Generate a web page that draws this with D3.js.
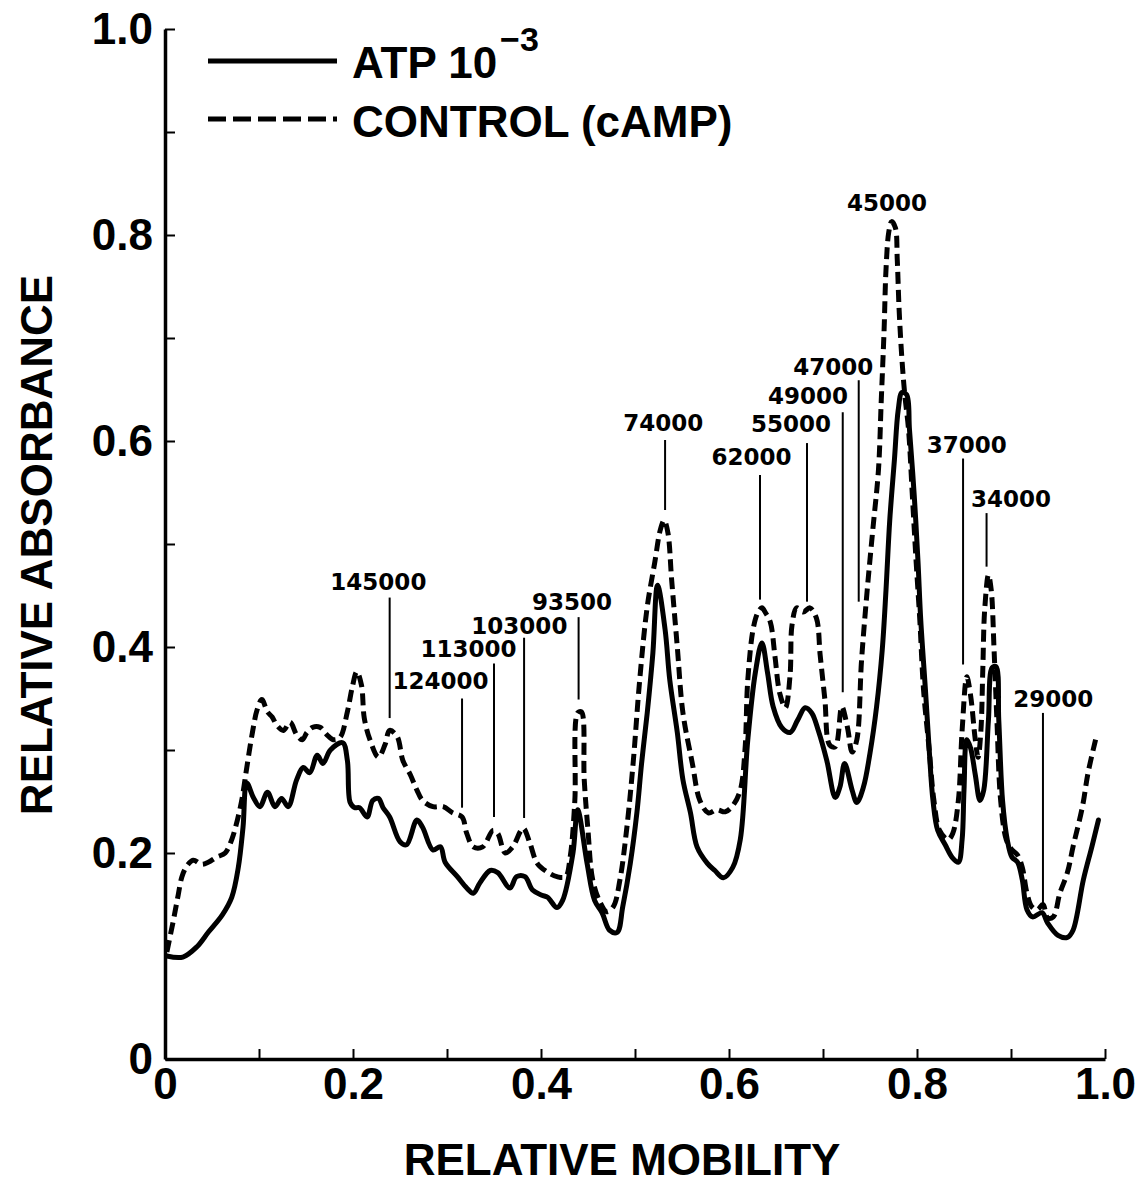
<!DOCTYPE html>
<html>
<head>
<meta charset="utf-8">
<script src="https://cdn.jsdelivr.net/npm/d3@7"></script>
<style>
  body { margin: 0; background: #fff; }
  text { fill: #000; }
</style>
</head>
<body>
<script>
// densitometer trace, ATP 10^-3 (solid)
var atpMobility = [0.002,0.019,0.034,0.046,0.061,0.071,0.078,0.083,0.087,0.094,
  0.101,0.109,0.117,0.124,0.131,0.140,0.147,0.154,0.162,0.168,
  0.176,0.189,0.194,0.197,0.202,0.207,0.215,0.221,0.227,0.232,
  0.239,0.250,0.257,0.268,0.274,0.285,0.293,0.298,0.311,0.321,
  0.328,0.335,0.346,0.354,0.367,0.374,0.383,0.391,0.401,0.407,
  0.417,0.423,0.434,0.439,0.449,0.457,0.465,0.473,0.481,0.487,
  0.495,0.502,0.507,0.513,0.519,0.524,0.532,0.537,0.545,0.551,
  0.559,0.566,0.577,0.585,0.594,0.604,0.612,0.620,0.628,0.635,
  0.641,0.647,0.656,0.665,0.673,0.681,0.688,0.695,0.704,0.713,
  0.718,0.723,0.731,0.736,0.743,0.750,0.757,0.763,0.767,0.771,
  0.776,0.780,0.784,0.789,0.792,0.797,0.801,0.804,0.809,0.813,
  0.817,0.822,0.830,0.838,0.844,0.848,0.850,0.853,0.857,0.862,
  0.867,0.871,0.876,0.880,0.884,0.887,0.891,0.896,0.901,0.907,
  0.912,0.917,0.923,0.933,0.939,0.950,0.960,0.966,0.977,0.986,
  0.993];
var atpAbsorbance = [0.100,0.099,0.109,0.123,0.140,0.157,0.186,0.225,0.268,0.254,
  0.245,0.259,0.245,0.253,0.245,0.271,0.283,0.278,0.295,0.287,
  0.300,0.307,0.290,0.249,0.244,0.244,0.235,0.251,0.253,0.244,
  0.235,0.211,0.208,0.232,0.225,0.203,0.206,0.191,0.177,0.166,
  0.161,0.171,0.183,0.181,0.166,0.177,0.177,0.164,0.159,0.157,
  0.147,0.154,0.200,0.242,0.190,0.154,0.142,0.125,0.123,0.148,
  0.190,0.239,0.287,0.336,0.394,0.460,0.417,0.368,0.317,0.271,
  0.239,0.206,0.190,0.183,0.176,0.186,0.213,0.310,0.375,0.404,
  0.375,0.342,0.322,0.317,0.329,0.341,0.336,0.319,0.290,0.254,
  0.264,0.287,0.261,0.249,0.264,0.297,0.342,0.397,0.455,0.523,
  0.582,0.630,0.647,0.645,0.611,0.548,0.484,0.426,0.358,0.300,
  0.251,0.222,0.208,0.195,0.191,0.213,0.261,0.310,0.302,0.276,
  0.251,0.261,0.329,0.380,0.381,0.329,0.251,0.213,0.196,0.191,
  0.174,0.145,0.138,0.142,0.132,0.120,0.118,0.125,0.174,0.206,
  0.232];

// control (cAMP) trace (dashed)
var controlMobility = [0.002,0.009,0.014,0.018,0.023,0.030,0.039,0.046,0.055,0.064,
  0.071,0.077,0.082,0.087,0.093,0.098,0.103,0.109,0.114,0.119,
  0.126,0.133,0.140,0.146,0.151,0.157,0.165,0.172,0.179,0.186,
  0.194,0.199,0.204,0.209,0.212,0.218,0.227,0.234,0.239,0.247,
  0.253,0.261,0.268,0.274,0.285,0.296,0.306,0.316,0.321,0.328,
  0.338,0.349,0.354,0.362,0.370,0.381,0.388,0.396,0.406,0.417,
  0.426,0.431,0.436,0.439,0.443,0.446,0.450,0.455,0.463,0.470,
  0.477,0.484,0.491,0.498,0.505,0.513,0.521,0.527,0.531,0.535,
  0.539,0.545,0.551,0.561,0.569,0.578,0.587,0.596,0.604,0.612,
  0.617,0.620,0.626,0.631,0.635,0.639,0.644,0.649,0.654,0.660,
  0.665,0.667,0.672,0.679,0.686,0.693,0.697,0.702,0.707,0.713,
  0.720,0.726,0.731,0.736,0.741,0.747,0.753,0.759,0.762,0.765,
  0.767,0.770,0.773,0.777,0.779,0.781,0.784,0.787,0.791,0.795,
  0.799,0.803,0.807,0.813,0.818,0.824,0.833,0.838,0.844,0.848,
  0.853,0.857,0.862,0.865,0.868,0.870,0.872,0.876,0.879,0.882,
  0.885,0.889,0.895,0.901,0.907,0.912,0.917,0.922,0.928,0.934,
  0.939,0.945,0.952,0.960,0.966,0.976,0.982,0.990];
var controlAbsorbance = [0.104,0.135,0.159,0.177,0.187,0.193,0.189,0.191,0.196,0.200,
  0.213,0.232,0.253,0.283,0.317,0.339,0.349,0.337,0.332,0.324,
  0.319,0.327,0.315,0.310,0.317,0.322,0.322,0.315,0.310,0.312,
  0.337,0.360,0.376,0.363,0.331,0.310,0.293,0.305,0.319,0.313,
  0.290,0.276,0.261,0.251,0.245,0.245,0.239,0.235,0.219,0.206,
  0.206,0.222,0.219,0.200,0.206,0.224,0.210,0.190,0.182,0.177,
  0.177,0.196,0.251,0.336,0.337,0.271,0.222,0.174,0.152,0.143,
  0.148,0.174,0.222,0.287,0.368,0.439,0.482,0.514,0.523,0.511,
  0.465,0.400,0.336,0.287,0.251,0.239,0.242,0.240,0.246,0.261,
  0.300,0.368,0.419,0.434,0.438,0.433,0.424,0.390,0.355,0.341,
  0.373,0.421,0.438,0.434,0.438,0.428,0.392,0.349,0.305,0.303,
  0.342,0.322,0.298,0.310,0.387,0.455,0.514,0.572,0.640,0.708,
  0.766,0.803,0.813,0.807,0.776,0.727,0.679,0.645,0.611,0.548,
  0.484,0.426,0.358,0.300,0.251,0.222,0.213,0.219,0.251,0.319,
  0.371,0.353,0.310,0.293,0.319,0.378,0.436,0.470,0.455,0.397,
  0.329,0.251,0.213,0.203,0.198,0.186,0.161,0.148,0.145,0.150,
  0.137,0.138,0.161,0.181,0.206,0.245,0.278,0.310];

// molecular weight markers: label, marker line (mobility, top, bottom), label position
var markerLabels   = ["145000","124000","113000","103000","93500","74000","62000","55000","49000","47000","45000","37000","34000","29000"];
var markerMobility = [0.239,0.316,0.350,0.382,0.440,0.532,0.633,0.683,0.721,0.738,null,0.849,0.874,0.934];
var markerTop      = [0.448,0.350,0.384,0.409,0.429,0.601,0.567,0.598,0.628,0.659,null,0.583,0.530,0.336];
var markerBottom   = [0.331,0.244,0.235,0.234,0.349,0.533,0.446,0.444,0.356,0.444,null,0.383,0.478,0.150];
var labelMobility  = [0.227,0.293,0.323,0.377,0.433,0.530,0.624,0.666,0.684,0.711,0.768,0.853,0.900,0.945];
var labelAbsorbance= [0.463,0.367,0.398,0.421,0.444,0.618,0.585,0.617,0.644,0.672,0.831,0.596,0.544,0.350];

var tickValues = d3.range(0, 11).map(function(i) { return i / 10; });

var width = 1135, height = 1186,
    margin = {top: 29, right: 30, bottom: 127, left: 165};

var svg = d3.select("body")
            .append("svg")
            .attr("width", width)
            .attr("height", height);

var x = d3.scaleLinear()
          .domain([0, 1])
          .range([margin.left, width - margin.right]);

var y = d3.scaleLinear()
          .domain([0, 1])
          .range([height - margin.bottom, margin.top]);

var tickFormat = function(d) {
  var k = Math.round(d * 10);
  if (k % 2 == 1) return "";
  return k == 0 ? "0" : d.toFixed(1);
};

var labelFont = "'Liberation Sans', Arial, sans-serif";

// x axis, ticks pointing inward
var xAxis = svg.append("g")
               .attr("transform", "translate(0," + y(0) + ")")
               .call(d3.axisBottom(x)
                       .tickValues(tickValues)
                       .tickSizeInner(-10)
                       .tickSizeOuter(0)
                       .tickPadding(9)
                       .tickFormat(tickFormat));

var yAxis = svg.append("g")
               .attr("transform", "translate(" + x(0) + ",0)")
               .call(d3.axisLeft(y)
                       .tickValues(tickValues)
                       .tickSizeInner(-10)
                       .tickSizeOuter(0)
                       .tickPadding(12)
                       .tickFormat(tickFormat));

[xAxis, yAxis].forEach(function(ax) {
  ax.select(".domain").attr("stroke-width", 3.5);
  ax.selectAll(".tick line").attr("stroke-width", 2);
  ax.selectAll(".tick text")
    .style("font-family", labelFont)
    .style("font-weight", "bold")
    .style("font-size", "44px");
});

// traces
var line = d3.line()
             .x(function(d) { return x(d[0]); })
             .y(function(d) { return y(d[1]); })
             .curve(d3.curveCatmullRom.alpha(0.5));

var atpData = d3.zip(atpMobility, atpAbsorbance);
var controlData = d3.zip(controlMobility, controlAbsorbance);

svg.append("path")
   .datum(controlData)
   .attr("d", line)
   .attr("fill", "none")
   .attr("stroke", "#000")
   .attr("stroke-width", 5)
   .attr("stroke-dasharray", "12,6")
   .attr("stroke-linejoin", "round");

svg.append("path")
   .datum(atpData)
   .attr("d", line)
   .attr("fill", "none")
   .attr("stroke", "#000")
   .attr("stroke-width", 5)
   .attr("stroke-linejoin", "round")
   .attr("stroke-linecap", "round");

// marker lines and labels
var markers = markerLabels.map(function(l, i) {
  return {label: l, mx: markerMobility[i], top: markerTop[i], bottom: markerBottom[i],
          lx: labelMobility[i], ly: labelAbsorbance[i]};
});

svg.selectAll(".marker-line")
   .data(markers.filter(function(d) { return d.mx !== null; }))
   .enter()
   .append("line")
   .attr("class", "marker-line")
   .attr("x1", function(d) { return x(d.mx); })
   .attr("x2", function(d) { return x(d.mx); })
   .attr("y1", function(d) { return y(d.top); })
   .attr("y2", function(d) { return y(d.bottom); })
   .attr("stroke", "#000")
   .attr("stroke-width", 2);

svg.selectAll(".marker-label")
   .data(markers)
   .enter()
   .append("text")
   .attr("class", "marker-label")
   .attr("x", function(d) { return x(d.lx); })
   .attr("y", function(d) { return y(d.ly); })
   .attr("dy", "0.36em")
   .style("text-anchor", "middle")
   .style("font-family", "'DejaVu Sans', sans-serif")
   .style("font-weight", "bold")
   .style("font-size", "23px")
   .text(function(d) { return d.label; });

// legend
var legend = svg.append("g");

legend.append("line")
      .attr("x1", 208).attr("x2", 337)
      .attr("y1", 61).attr("y2", 61)
      .attr("stroke", "#000")
      .attr("stroke-width", 5);

legend.append("line")
      .attr("x1", 208).attr("x2", 337)
      .attr("y1", 119).attr("y2", 119)
      .attr("stroke", "#000")
      .attr("stroke-width", 5)
      .attr("stroke-dasharray", "18,7");

var atpText = legend.append("text")
                    .attr("x", 352)
                    .attr("y", 78)
                    .style("font-family", labelFont)
                    .style("font-weight", "bold")
                    .style("font-size", "44px");
atpText.append("tspan").text("ATP 10");
atpText.append("tspan")
       .attr("dx", 3)
       .attr("dy", -27)
       .style("font-size", "34px")
       .text("\u22123");

legend.append("text")
      .attr("x", 352)
      .attr("y", 137)
      .style("font-family", labelFont)
      .style("font-weight", "bold")
      .style("font-size", "44px")
      .text("CONTROL (cAMP)");

// axis titles
svg.append("text")
   .attr("x", (x(0) + x(1)) / 2 - 13)
   .attr("y", 1175)
   .style("text-anchor", "middle")
   .style("font-family", labelFont)
   .style("font-weight", "bold")
   .style("font-size", "44px")
   .text("RELATIVE MOBILITY");

svg.append("text")
   .attr("transform", "translate(52,545) rotate(-90)")
   .style("text-anchor", "middle")
   .style("font-family", labelFont)
   .style("font-weight", "bold")
   .style("font-size", "44px")
   .text("RELATIVE ABSORBANCE");
</script>
</body>
</html>
